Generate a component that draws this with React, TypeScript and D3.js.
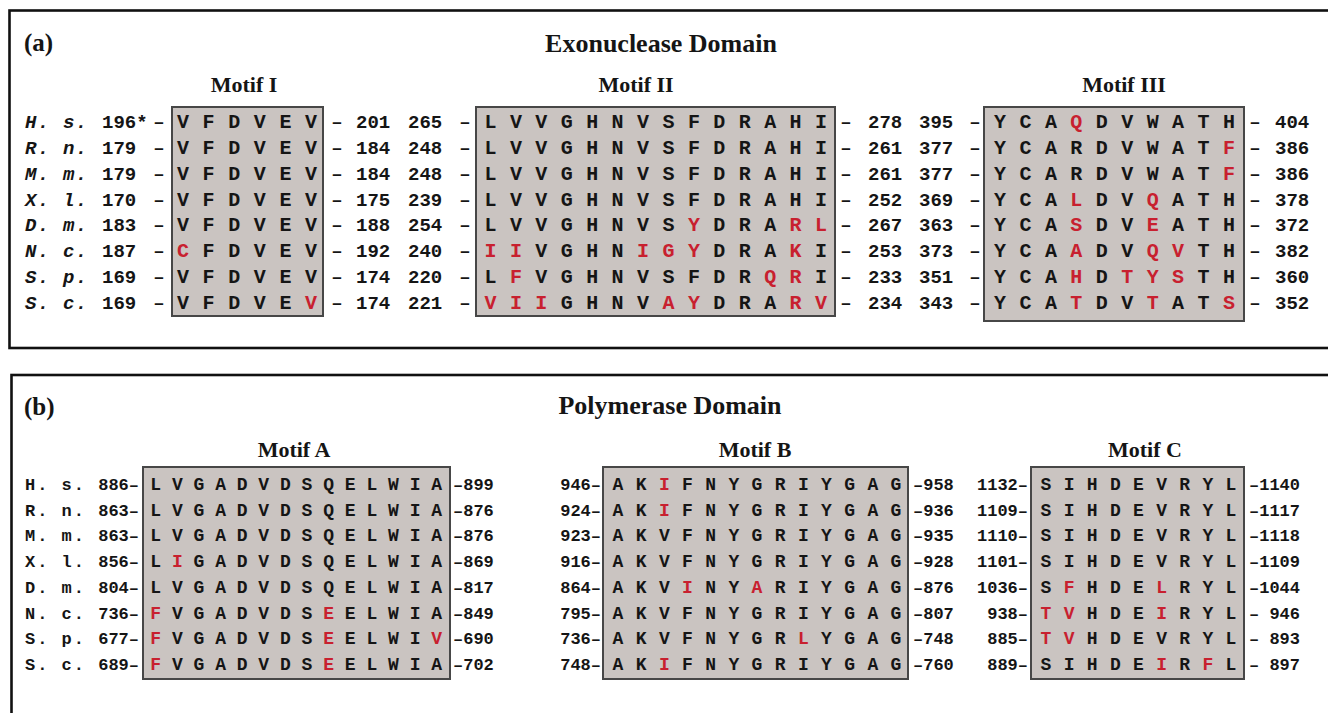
import React from "react";
import * as d3 from "d3";

// ---------- data ----------
const SPECIES = ["H. s.", "R. n.", "M. m.", "X. l.", "D. m.", "N. c.", "S. p.", "S. c."];

// lowercase letter = divergent residue (drawn in red)
const MOTIF_I = ["VFDVEV", "VFDVEV", "VFDVEV", "VFDVEV", "VFDVEV", "cFDVEV", "VFDVEV", "VFDVEv"];
const MOTIF_I_START = ["196*", "179", "179", "170", "183", "187", "169", "169"];
const MOTIF_I_END = ["201", "184", "184", "175", "188", "192", "174", "174"];

const MOTIF_II = [
  "LVVGHNVSFDRAHI",
  "LVVGHNVSFDRAHI",
  "LVVGHNVSFDRAHI",
  "LVVGHNVSFDRAHI",
  "LVVGHNVSyDRArl",
  "iiVGHNigyDRAkI",
  "LfVGHNVSFDRqrI",
  "viiGHNVayDRArv",
];
const MOTIF_II_START = ["265", "248", "248", "239", "254", "240", "220", "221"];
const MOTIF_II_END = ["278", "261", "261", "252", "267", "253", "233", "234"];

const MOTIF_III = [
  "YCAqDVWATH",
  "YCARDVWATf",
  "YCARDVWATf",
  "YCAlDVqATH",
  "YCAsDVeATH",
  "YCAaDVqvTH",
  "YCAhDtysTH",
  "YCAtDVtATs",
];
const MOTIF_III_START = ["395", "377", "377", "369", "363", "373", "351", "343"];
const MOTIF_III_END = ["404", "386", "386", "378", "372", "382", "360", "352"];

const MOTIF_A = [
  "LVGADVDSQELWIA",
  "LVGADVDSQELWIA",
  "LVGADVDSQELWIA",
  "LiGADVDSQELWIA",
  "LVGADVDSQELWIA",
  "fVGADVDSeELWIA",
  "fVGADVDSeELWIv",
  "fVGADVDSeELWIA",
];
const MOTIF_A_START = ["886", "863", "863", "856", "804", "736", "677", "689"];
const MOTIF_A_END = ["899", "876", "876", "869", "817", "849", "690", "702"];

const MOTIF_B = [
  "AKiFNYGRIYGAG",
  "AKiFNYGRIYGAG",
  "AKVFNYGRIYGAG",
  "AKVFNYGRIYGAG",
  "AKViNYaRIYGAG",
  "AKVFNYGRIYGAG",
  "AKVFNYGRlYGAG",
  "AKiFNYGRIYGAG",
];
const MOTIF_B_START = ["946", "924", "923", "916", "864", "795", "736", "748"];
const MOTIF_B_END = ["958", "936", "935", "928", "876", "807", "748", "760"];

const MOTIF_C = [
  "SIHDEVRYL",
  "SIHDEVRYL",
  "SIHDEVRYL",
  "SIHDEVRYL",
  "SfHDElRYL",
  "tvHDEiRYL",
  "tvHDEVRYL",
  "SIHDEiRfL",
];
const MOTIF_C_START = ["1132", "1109", "1110", "1101", "1036", "938", "885", "889"];
const MOTIF_C_END = ["1140", "1117", "1118", "1109", "1044", "946", "893", "897"];

// ---------- style ----------
const RED = "#c8202f";
const INK = "#151515";
const BOX_FILL = "#cac4c1";
const BOX_STROKE = "#474747";
const MONO = "'Liberation Mono', 'Courier New', monospace";
const SERIF = "'Liberation Serif', 'Times New Roman', serif";

type MotifProps = {
  seqs: string[];
  rows: d3.ScalePoint<string>;
  x0: number;
  x1: number;
  fontSize: number;
  top: number;
  bottom: number;
  padL: number;
  padR: number;
  label: string;
  labelX: number;
  labelY: number;
};

function Motif({ seqs, rows, x0, x1, fontSize, top, bottom, padL, padR, label, labelX, labelY }: MotifProps) {
  const n = seqs[0].length;
  const xs = d3.scalePoint<number>().domain(d3.range(n)).range([x0, x1]);
  const first = rows(SPECIES[0]) as number;
  const last = rows(SPECIES[SPECIES.length - 1]) as number;
  return (
    <g>
      <text x={labelX} y={labelY} textAnchor="middle" fontFamily={SERIF} fontWeight="bold" fontSize={22} fill={INK}>
        {label}
      </text>
      <rect
        x={x0 - padL}
        y={first - top}
        width={x1 - x0 + padL + padR}
        height={last - first + top + bottom}
        fill={BOX_FILL}
        stroke={BOX_STROKE}
        strokeWidth={2}
      />
      {seqs.map((s, r) =>
        s.split("").map((ch, i) => {
          const red = ch !== ch.toUpperCase();
          return (
            <text
              key={`${r}-${i}`}
              x={xs(i)}
              y={rows(SPECIES[r])}
              textAnchor="middle"
              fontFamily={MONO}
              fontWeight="bold"
              fontSize={fontSize}
              fill={red ? RED : INK}
            >
              {ch.toUpperCase()}
            </text>
          );
        })
      )}
    </g>
  );
}

function Column({ vals, rows, x, anchor, fontSize }: { vals: string[]; rows: d3.ScalePoint<string>; x: number; anchor: "start" | "end" | "middle"; fontSize: number }) {
  return (
    <g>
      {vals.map((v, r) => (
        <text
          key={r}
          x={x}
          y={rows(SPECIES[r])}
          textAnchor={anchor}
          fontFamily={MONO}
          fontWeight="bold"
          fontSize={fontSize}
          fill={INK}
          style={{ whiteSpace: "pre" }}
        >
          {v}
        </text>
      ))}
    </g>
  );
}

export default function App() {
  const rowsA = d3.scalePoint<string>().domain(SPECIES).range([128, 309]);
  const rowsB = d3.scalePoint<string>().domain(SPECIES).range([490, 670]);
  const dashes = SPECIES.map(() => "–");
  const fa = 19;
  const fb = 17;
  const la = 20;
  const lb = 18;

  return (
    <svg
      width={1328}
      height={713}
      style={{ position: "absolute", left: 0, top: 0, background: "#fff" }}
    >
      {/* panel frames */}
      <rect x={9.5} y={10.5} width={1340} height={337.5} fill="none" stroke="#111" strokeWidth={2.6} />
      <rect x={11.5} y={375} width={1340} height={360} fill="none" stroke="#111" strokeWidth={2.6} />

      {/* ---------- panel (a) ---------- */}
      <text x={24} y={51} fontFamily={SERIF} fontWeight="bold" fontSize={25} fill={INK}>(a)</text>
      <text x={661} y={52} textAnchor="middle" fontFamily={SERIF} fontWeight="bold" fontSize={26} fill={INK}>
        Exonuclease Domain
      </text>

      <g>
        {SPECIES.map((s) => (
          <text key={s} x={25} y={rowsA(s)} fontFamily={MONO} fontStyle="italic" fontWeight="bold" fontSize={fa} letterSpacing={1.3} fill={INK} style={{ whiteSpace: "pre" }}>
            {s}
          </text>
        ))}
      </g>

      <Column vals={MOTIF_I_START} rows={rowsA} x={102} anchor="start" fontSize={fa} />
      <Column vals={dashes} rows={rowsA} x={159} anchor="middle" fontSize={fa} />
      <Motif seqs={MOTIF_I} rows={rowsA} x0={183} x1={311} fontSize={la} top={21} bottom={7} padL={11} padR={12} label="Motif I" labelX={244} labelY={92} />
      <Column vals={dashes} rows={rowsA} x={337} anchor="middle" fontSize={fa} />
      <Column vals={MOTIF_I_END} rows={rowsA} x={356} anchor="start" fontSize={fa} />

      <Column vals={MOTIF_II_START} rows={rowsA} x={408} anchor="start" fontSize={fa} />
      <Column vals={dashes} rows={rowsA} x={465} anchor="middle" fontSize={fa} />
      <Motif seqs={MOTIF_II} rows={rowsA} x0={490.5} x1={821} fontSize={la} top={21} bottom={7} padL={14.5} padR={14} label="Motif II" labelX={636} labelY={92} />
      <Column vals={dashes} rows={rowsA} x={846} anchor="middle" fontSize={fa} />
      <Column vals={MOTIF_II_END} rows={rowsA} x={868} anchor="start" fontSize={fa} />

      <Column vals={MOTIF_III_START} rows={rowsA} x={919} anchor="start" fontSize={fa} />
      <Column vals={dashes} rows={rowsA} x={975} anchor="middle" fontSize={fa} />
      <Motif seqs={MOTIF_III} rows={rowsA} x0={1000} x1={1229} fontSize={la} top={21} bottom={12} padL={16} padR={15} label="Motif III" labelX={1124} labelY={92} />
      <Column vals={dashes} rows={rowsA} x={1255} anchor="middle" fontSize={fa} />
      <Column vals={MOTIF_III_END} rows={rowsA} x={1275} anchor="start" fontSize={fa} />

      {/* ---------- panel (b) ---------- */}
      <text x={24} y={415} fontFamily={SERIF} fontWeight="bold" fontSize={25} fill={INK}>(b)</text>
      <text x={670} y={414} textAnchor="middle" fontFamily={SERIF} fontWeight="bold" fontSize={26} fill={INK}>
        Polymerase Domain
      </text>

      <g>
        {SPECIES.map((s) => (
          <text key={s} x={25} y={rowsB(s)} fontFamily={MONO} fontWeight="bold" fontSize={fb} letterSpacing={2} fill={INK} style={{ whiteSpace: "pre" }}>
            {s}
          </text>
        ))}
      </g>

      <Column vals={MOTIF_A_START.map((v) => `${v}–`)} rows={rowsB} x={139} anchor="end" fontSize={fb} />
      <Motif seqs={MOTIF_A} rows={rowsB} x0={155.7} x1={436.7} fontSize={lb} top={23} bottom={9} padL={12.7} padR={13.3} label="Motif A" labelX={294} labelY={457} />
      <Column vals={MOTIF_A_END.map((v) => `–${v}`)} rows={rowsB} x={453} anchor="start" fontSize={fb} />

      <Column vals={MOTIF_B_START.map((v) => `${v}–`)} rows={rowsB} x={601} anchor="end" fontSize={fb} />
      <Motif seqs={MOTIF_B} rows={rowsB} x0={618} x1={896} fontSize={lb} top={23} bottom={9} padL={15} padR={12} label="Motif B" labelX={755} labelY={457} />
      <Column vals={MOTIF_B_END.map((v) => `–${v}`)} rows={rowsB} x={913} anchor="start" fontSize={fb} />

      <Column vals={MOTIF_C_START.map((v) => `${v}–`)} rows={rowsB} x={1028} anchor="end" fontSize={fb} />
      <Motif seqs={MOTIF_C} rows={rowsB} x0={1046} x1={1231} fontSize={lb} top={23} bottom={9} padL={15} padR={13} label="Motif C" labelX={1145} labelY={457} />
      <Column vals={MOTIF_C_END.map((v) => `–${v.padStart(4, " ")}`)} rows={rowsB} x={1249} anchor="start" fontSize={fb} />
    </svg>
  );
}
